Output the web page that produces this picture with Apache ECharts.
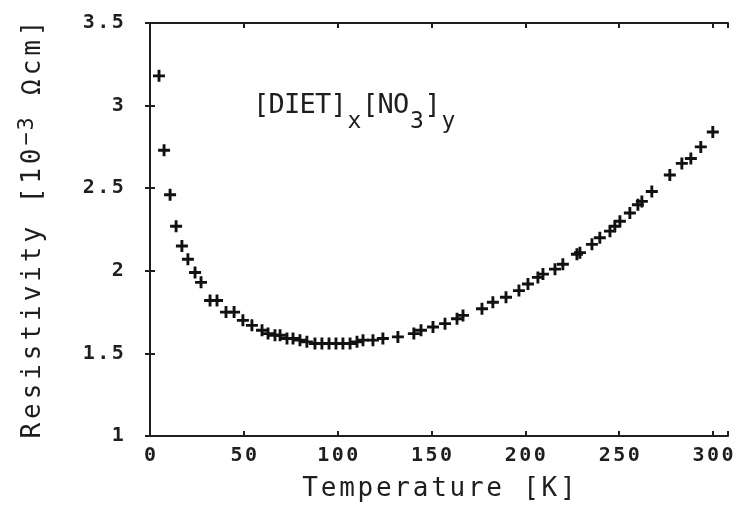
<!DOCTYPE html>
<html>
<head>
<meta charset="utf-8">
<script src="https://cdn.jsdelivr.net/npm/echarts@6/dist/echarts.min.js"></script>
<style>
  html, body { margin: 0; background: #fff; }
  #MyChart { width: 737px; height: 511px; }
</style>
</head>
<body>
<div id="MyChart"></div>
<script>
// data
const temperature = [4.8, 7.5, 10.7, 13.9, 17.0, 20.2, 24.0, 27.2, 32.0, 35.7,
  40.5, 44.8, 49.5, 54.3, 59.7, 62.9, 66.6, 69.3, 73.0, 76.2,
  79.9, 83.6, 87.9, 91.6, 95.4, 99.1, 102.8, 106.6, 110.3, 113.5,
  118.8, 124.1, 132.1, 140.6, 144.4, 150.8, 157.2, 163.6, 166.8, 176.9,
  182.7, 189.7, 196.6, 201.4, 206.7, 209.4, 215.8, 220.0, 227.5, 229.1,
  235.5, 239.7, 245.1, 247.7, 250.4, 255.7, 260.0, 262.1, 267.4, 277.0,
  283.4, 288.2, 293.5, 299.9];
const resistivity = [3.18, 2.73, 2.46, 2.27, 2.15, 2.07, 1.99, 1.93, 1.82, 1.82,
  1.75, 1.75, 1.70, 1.67, 1.64, 1.62, 1.61, 1.61, 1.59, 1.59,
  1.58, 1.57, 1.56, 1.56, 1.56, 1.56, 1.56, 1.56, 1.57, 1.58,
  1.58, 1.59, 1.60, 1.62, 1.64, 1.66, 1.68, 1.71, 1.73, 1.77,
  1.81, 1.84, 1.88, 1.92, 1.96, 1.98, 2.01, 2.04, 2.10, 2.11,
  2.16, 2.20, 2.24, 2.27, 2.30, 2.35, 2.40, 2.42, 2.48, 2.58,
  2.65, 2.68, 2.75, 2.84];
const xTickValues = [0, 50, 100, 150, 200, 250, 300];
const xTickLabels = ['0', '50', '100', '150', '200', '250', '300'];
const yTickValues = [1, 1.5, 2, 2.5, 3, 3.5];
const yTickLabels = ['1', '1.5', '2', '2.5', '3', '3.5'];

const FONT = 'DejaVu Sans Mono';
const INK = '#1e1e1e';

// old plotter lettering: every character in its own fixed-width cell
function cells(str, tok) {
  return str.split('').map(c => '{' + tok + '|' + c + '}').join('');
}
function tickLabel(values, labels) {
  return function (v) {
    for (let i = 0; i < values.length; i++) {
      if (Math.abs(values[i] - v) < 1e-6) return cells(labels[i], 't');
    }
    return '';
  };
}
const tickRich = { t: { width: 14.5, align: 'center', fontSize: 20, fontWeight: 'bold', fontFamily: FONT, color: INK } };

let points = [];
for (let i = 0; i < temperature.length; i++) {
  points.push([temperature[i], resistivity[i]]);
}

let myChart = echarts.init(document.getElementById('MyChart'));
let option = {
  animation: false,
  backgroundColor: '#fff',
  grid: { left: 150, right: 9, top: 23, bottom: 75 },
  xAxis: [
    {
      type: 'value', min: 0, max: 308, interval: 50, position: 'bottom',
      splitLine: { show: false },
      axisLine: { lineStyle: { color: INK, width: 2 } },
      axisTick: { inside: true, length: 5, lineStyle: { color: INK, width: 2 } },
      axisLabel: { margin: 10, formatter: tickLabel(xTickValues, xTickLabels), rich: tickRich },
      name: cells('Temperature [K]', 'n'),
      nameLocation: 'middle',
      nameGap: 40,
      nameTextStyle: {
        rich: { n: { width: 18.4, align: 'center', fontSize: 26, fontFamily: FONT, color: INK } }
      }
    },
    {
      type: 'value', min: 0, max: 308, interval: 50, position: 'top',
      splitLine: { show: false },
      axisLine: { lineStyle: { color: INK, width: 2 } },
      axisTick: { inside: true, length: 5, lineStyle: { color: INK, width: 2 } },
      axisLabel: { show: false }
    }
  ],
  yAxis: [
    {
      type: 'value', min: 1, max: 3.5, interval: 0.5, position: 'left',
      splitLine: { show: false },
      axisLine: { lineStyle: { color: INK, width: 2 } },
      axisTick: { inside: true, length: 5, lineStyle: { color: INK, width: 2 } },
      axisLabel: { margin: 25, formatter: tickLabel(yTickValues, yTickLabels), rich: tickRich },
      name: cells('Resistivity [10', 'n') + '{s|−}{s|3}' + cells(' Ωcm]', 'n'),
      nameLocation: 'middle',
      nameRotate: 90,
      nameGap: 104,
      nameTextStyle: {
        rich: {
          n: { width: 19.6, align: 'center', fontSize: 26, fontFamily: FONT, color: INK,
               lineHeight: 30, verticalAlign: 'bottom' },
          s: { width: 15, align: 'center', fontSize: 22, fontFamily: FONT, color: INK,
               lineHeight: 22, verticalAlign: 'top' }
        }
      }
    },
    {
      type: 'value', min: 1, max: 3.5, interval: 0.5, position: 'right',
      splitLine: { show: false },
      axisLine: { lineStyle: { color: INK, width: 2 } },
      axisTick: { inside: true, length: 5, lineStyle: { color: INK, width: 2 } },
      axisLabel: { show: false }
    }
  ],
  graphic: [
    {
      type: 'text',
      left: 253,
      top: 92,
      style: {
        text: cells('[DIET]', 'm') + '{b|x}' + cells('[NO', 'm') + '{b|3}' + '{m|]}' + '{b|y}',
        rich: {
          m: { width: 15.5, align: 'center', fontSize: 27, fontFamily: FONT, fill: INK,
               lineHeight: 30, verticalAlign: 'top' },
          b: { width: 16, align: 'center', fontSize: 23, fontFamily: FONT, fill: INK,
               lineHeight: 60 }
        }
      }
    }
  ],
  series: [
    {
      type: 'scatter',
      data: points,
      symbol: 'path://M3.8,0H6.2V3.8H10V6.2H6.2V10H3.8V6.2H0V3.8H3.8Z',
      symbolSize: 12,
      itemStyle: { color: '#111', opacity: 1 }
    }
  ]
};
myChart.setOption(option);
</script>
</body>
</html>
